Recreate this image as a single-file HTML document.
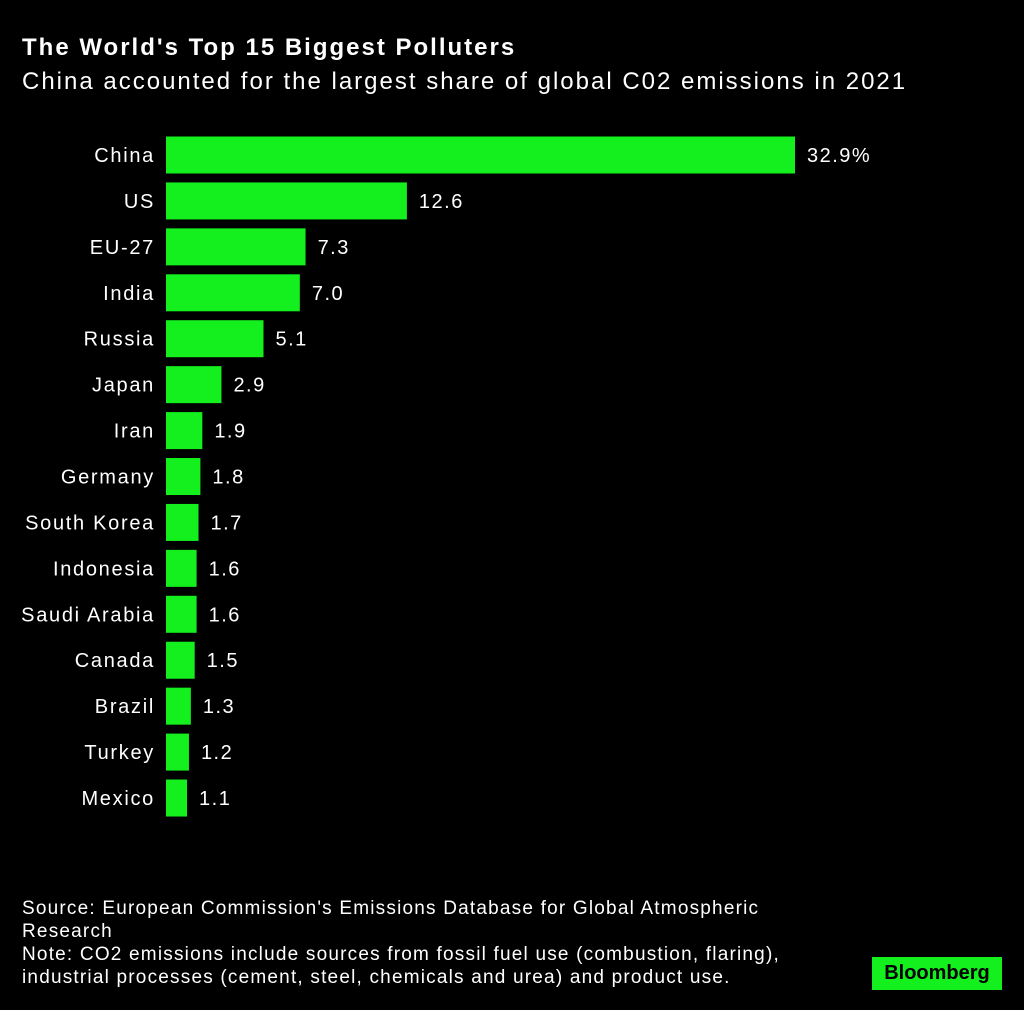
<!DOCTYPE html>
<html><head><meta charset="utf-8"><style>
body{margin:0;width:1024px;height:1010px;background:#000;font-family:"Liberation Sans",sans-serif;color:#fff;overflow:hidden;position:relative}
.t{position:absolute;white-space:nowrap}
</style></head><body>
<div class="t" style="left:22px;top:34px;font-size:24px;font-weight:bold;letter-spacing:2px">The World's Top 15 Biggest Polluters</div>
<div class="t" style="left:22px;top:68px;font-size:24px;letter-spacing:2px">China accounted for the largest share of global C02 emissions in 2021</div>
<svg id="chart" width="1024" height="850" style="position:absolute;left:0;top:0"></svg>
<div class="t" style="left:22px;top:897px;font-size:19px;line-height:23px;letter-spacing:1.2px">Source: European Commission's Emissions Database for Global Atmospheric<br>Research<br>Note: CO2 emissions include sources from fossil fuel use (combustion, flaring),<br>industrial processes (cement, steel, chemicals and urea) and product use.</div>
<div style="position:absolute;left:872px;top:957px;width:130px;height:33px;background:#14ef1e;color:#000;font-weight:bold;font-size:20px;line-height:33px;text-align:center">Bloomberg</div>
<script>
const categories=["China","US","EU-27","India","Russia","Japan","Iran","Germany","South Korea","Indonesia","Saudi Arabia","Canada","Brazil","Turkey","Mexico"];
const values=[32.9,12.6,7.3,7.0,5.1,2.9,1.9,1.8,1.7,1.6,1.6,1.5,1.3,1.2,1.1];
const valueLabels=["32.9%","12.6","7.3","7.0","5.1","2.9","1.9","1.8","1.7","1.6","1.6","1.5","1.3","1.2","1.1"];
const svg=document.getElementById('chart');
const NS='http://www.w3.org/2000/svg';
const x0=166,k=629/32.9;
const xs=v=>x0+v*k;
const yc=i=>155+i*45.93;
categories.forEach((c,i)=>{
  const r=document.createElementNS(NS,'rect');
  r.setAttribute('x',x0);r.setAttribute('y',yc(i)-18.5);
  r.setAttribute('width',xs(values[i])-x0);r.setAttribute('height',37);
  r.setAttribute('fill','#14ef1e');
  
  
  svg.appendChild(r);
  const t=document.createElementNS(NS,'text');
  t.setAttribute('x',155);t.setAttribute('y',yc(i)+7);
  t.setAttribute('text-anchor','end');t.setAttribute('fill','#fff');t.setAttribute('font-size','20');
  t.setAttribute('letter-spacing','1.7');
  t.textContent=c;
  
  
  svg.appendChild(t);
  const v=document.createElementNS(NS,'text');
  v.setAttribute('x',xs(values[i])+12);v.setAttribute('y',yc(i)+7);
  v.setAttribute('fill','#fff');v.setAttribute('font-size','20');
  v.setAttribute('letter-spacing','1.5');
  v.textContent=valueLabels[i];
  
  
  svg.appendChild(v);
});
</script>
</body></html>
